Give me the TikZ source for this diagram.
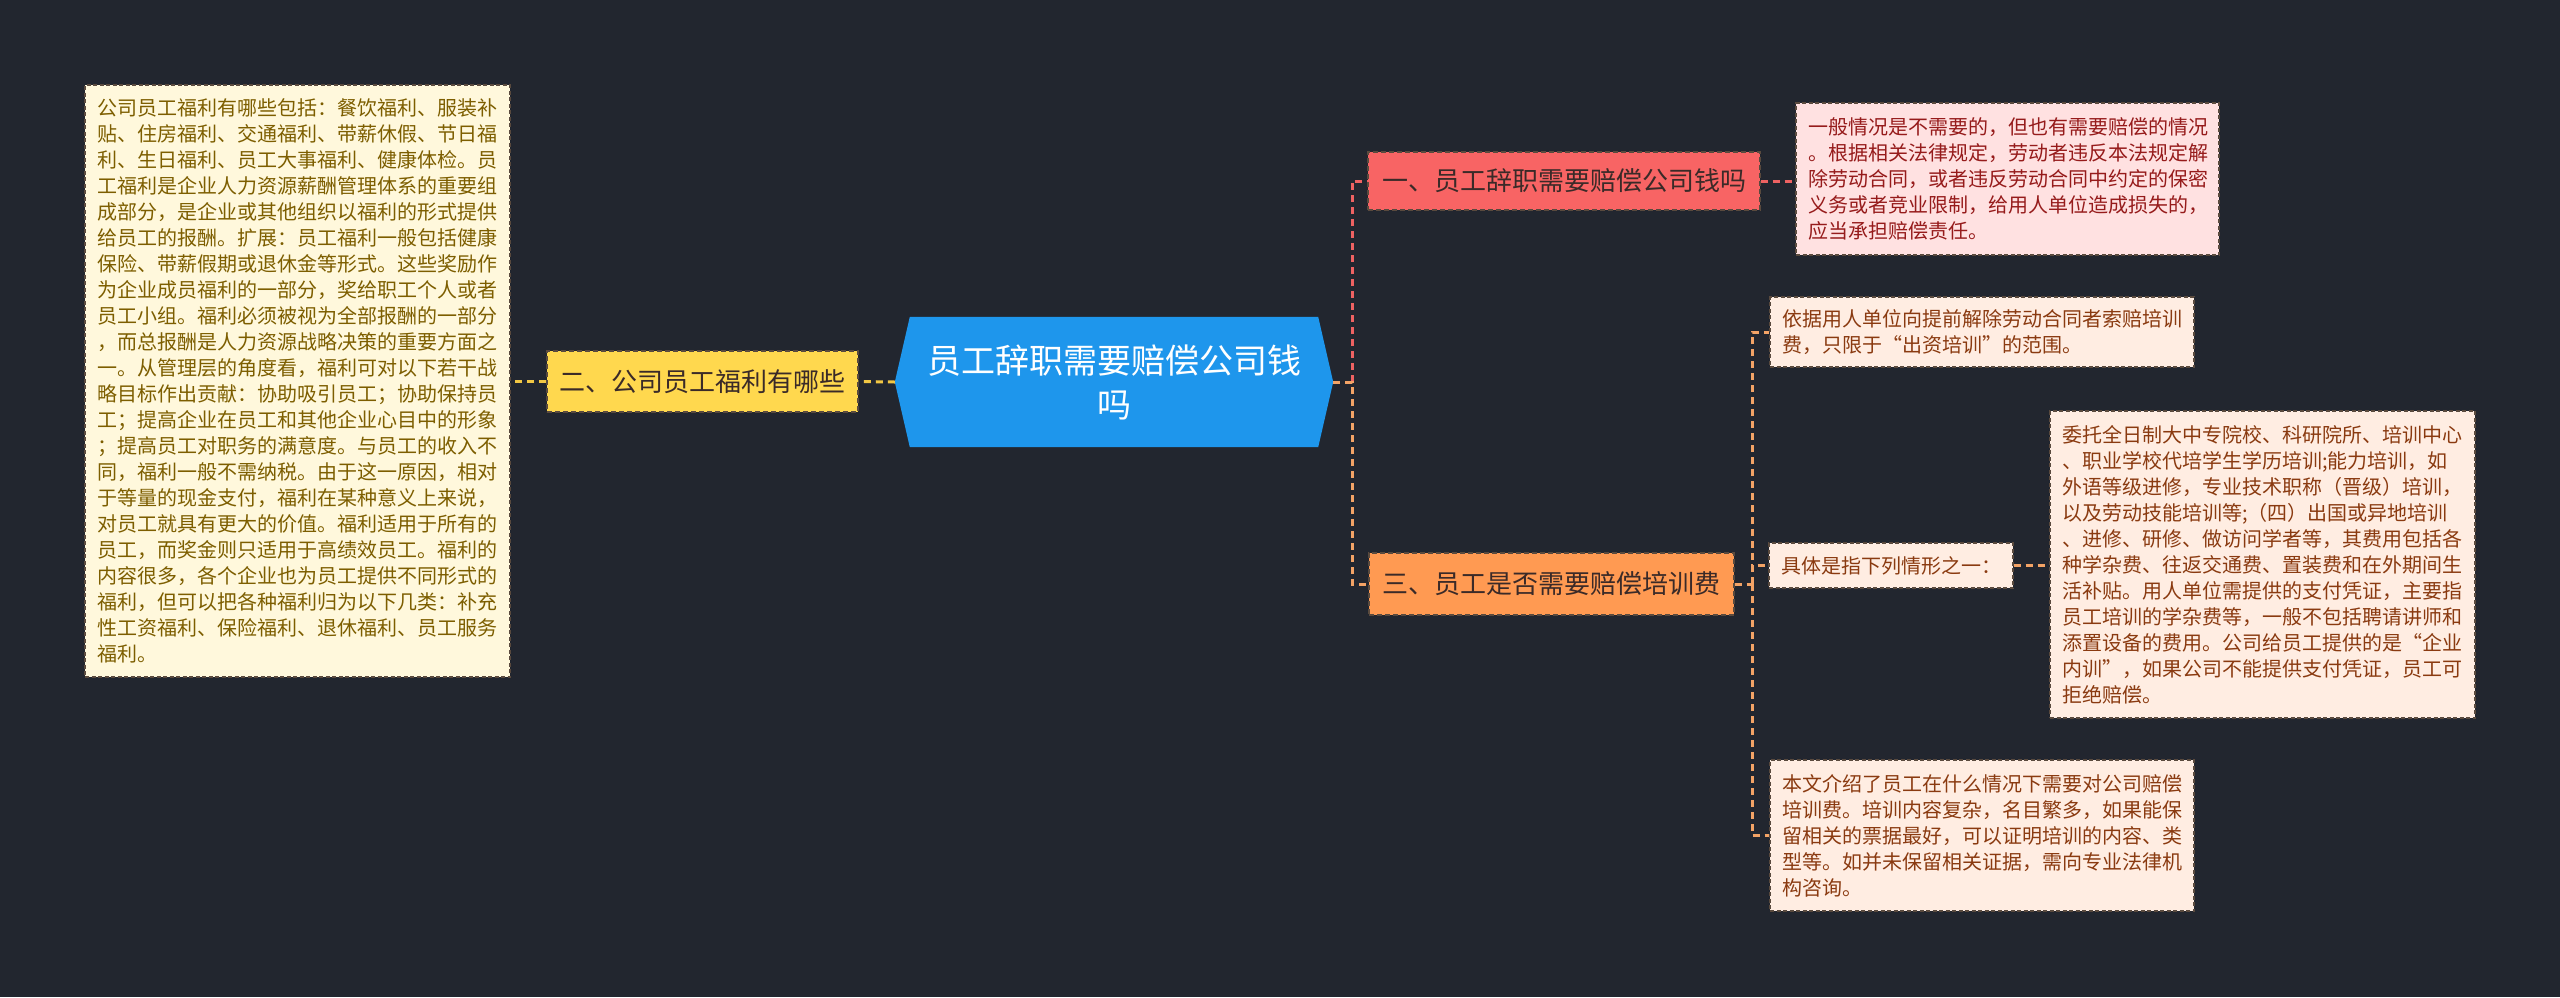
\documentclass[tikz,border=0pt]{standalone}
\usepackage{fontspec}
\setmainfont{Noto Sans CJK SC}
\usetikzlibrary{calc}
\pgfdeclarelayer{back}
\pgfdeclarelayer{bg}
\pgfsetlayers{back,bg,main}
\definecolor{bgc}{HTML}{22262F}
\definecolor{cblue}{HTML}{1E96EC}
\definecolor{cyellow}{HTML}{FFD84E}
\definecolor{cred}{HTML}{F86464}
\definecolor{corange}{HTML}{FF9A52}
\definecolor{lyellow}{HTML}{FFF8DC}
\definecolor{lred}{HTML}{FFE1E1}
\definecolor{lorange}{HTML}{FFEDE2}
\definecolor{tyellow}{HTML}{7D5E00}
\definecolor{tred}{HTML}{961B1B}
\definecolor{torange}{HTML}{8A3A10}
\definecolor{tdark}{HTML}{3A2A28}
\definecolor{bord}{HTML}{5A4A3E}
\definecolor{lyline}{HTML}{F2C744}
\definecolor{lrline}{HTML}{EE6262}
\definecolor{loline}{HTML}{F3A366}
\tikzset{
  txtbox/.style={rectangle, draw=bord, dash pattern=on 4pt off 2.5pt, line width=1.2pt,
    inner xsep=12pt, inner ysep=0pt, align=left, font=\fontsize{20}{26}\selectfont},
  topic/.style={rectangle, draw=bord, dash pattern=on 5pt off 3pt, line width=1.3pt,
    inner sep=0pt, align=center, text=tdark, font=\fontsize{26}{32}\selectfont},
  conn/.style={dash pattern=on 7pt off 5pt, line width=3pt},
}
\begin{document}
\begin{tikzpicture}[x=1pt,y=-1pt]
\begin{pgfonlayer}{back}
\fill[bgc] (0,0) rectangle (2560,997);
\end{pgfonlayer}
\useasboundingbox (0,0) rectangle (2560,997);

% central
\node[text=white, align=center, font=\fontsize{34}{44}\selectfont, minimum width=438pt, minimum height=130pt, inner sep=0pt] (c) at (1114,382) {员工辞职需要赔偿公司钱\\吗};
\begin{pgfonlayer}{bg}
\fill[cblue] (c.west) -- ([xshift=15pt]c.north west) -- ([xshift=-15pt]c.north east) -- (c.east) -- ([xshift=-15pt]c.south east) -- ([xshift=15pt]c.south west) -- cycle;
\end{pgfonlayer}

% main topics
\node[topic, fill=cyellow, minimum width=311pt, minimum height=61pt] (n2) at (702.5,381.5) {二、公司员工福利有哪些};
\node[topic, fill=cred, minimum width=392pt, minimum height=58pt] (n1) at (1564,181) {一、员工辞职需要赔偿公司钱吗};
\node[topic, fill=corange, minimum width=365pt, minimum height=62pt] (n3) at (1551.5,584) {三、员工是否需要赔偿培训费};

% left text
\node[txtbox, fill=lyellow, text=tyellow, text width=401pt, minimum height=592pt] (lt) at (297.5,381) {公司员工福利有哪些包括：餐饮福利、服装补\\
贴、住房福利、交通福利、带薪休假、节日福\\
利、生日福利、员工大事福利、健康体检。员\\
工福利是企业人力资源薪酬管理体系的重要组\\
成部分，是企业或其他组织以福利的形式提供\\
给员工的报酬。扩展：员工福利一般包括健康\\
保险、带薪假期或退休金等形式。这些奖励作\\
为企业成员福利的一部分，奖给职工个人或者\\
员工小组。福利必须被视为全部报酬的一部分\\
，而总报酬是人力资源战略决策的重要方面之\\
一。从管理层的角度看，福利可对以下若干战\\
略目标作出贡献：协助吸引员工；协助保持员\\
工；提高企业在员工和其他企业心目中的形象\\
；提高员工对职务的满意度。与员工的收入不\\
同，福利一般不需纳税。由于这一原因，相对\\
于等量的现金支付，福利在某种意义上来说，\\
对员工就具有更大的价值。福利适用于所有的\\
员工，而奖金则只适用于高绩效员工。福利的\\
内容很多，各个企业也为员工提供不同形式的\\
福利，但可以把各种福利归为以下几类：补充\\
性工资福利、保险福利、退休福利、员工服务\\
福利。};

% red text
\node[txtbox, fill=lred, text=tred, text width=399pt, minimum height=152pt] (r1) at (2007.5,179) {一般情况是不需要的，但也有需要赔偿的情况\\
。根据相关法律规定，劳动者违反本法规定解\\
除劳动合同，或者违反劳动合同中约定的保密\\
义务或者竞业限制，给用人单位造成损失的，\\
应当承担赔偿责任。};

% orange texts
\node[txtbox, fill=lorange, text=torange, text width=400pt, minimum height=70pt] (t1) at (1982,332) {依据用人单位向提前解除劳动合同者索赔培训\\
费，只限于“出资培训”的范围。};
\node[txtbox, fill=lorange, text=torange, text width=220pt, minimum height=45pt] (t2) at (1891,565.5) {具体是指下列情形之一：};
\node[txtbox, fill=lorange, text=torange, text width=401pt, minimum height=307pt] (t4) at (2262.5,564.5) {委托全日制大中专院校、科研院所、培训中心\\
、职业学校代培学生学历培训;能力培训，如\\
外语等级进修，专业技术职称（晋级）培训，\\
以及劳动技能培训等;（四）出国或异地培训\\
、进修、研修、做访问学者等，其费用包括各\\
种学杂费、往返交通费、置装费和在外期间生\\
活补贴。用人单位需提供的支付凭证，主要指\\
员工培训的学杂费等，一般不包括聘请讲师和\\
添置设备的费用。公司给员工提供的是“企业\\
内训”，如果公司不能提供支付凭证，员工可\\
拒绝赔偿。};
\node[txtbox, fill=lorange, text=torange, text width=400pt, minimum height=151pt] (t3) at (1982,835.5) {本文介绍了员工在什么情况下需要对公司赔偿\\
培训费。培训内容复杂，名目繁多，如果能保\\
留相关的票据最好，可以证明培训的内容、类\\
型等。如并未保留相关证据，需向专业法律机\\
构咨询。};

% junctions
\coordinate (j1) at (1352,382);
\coordinate (j2) at (1752,584);

% connectors
\begin{pgfonlayer}{bg}
\draw[conn, lyline] (c.west) -- (n2.east);
\draw[conn, lyline] (n2.west) -- (n2.west -| lt.east);
\draw[conn, lrline] (j1) |- (n1.west);
\draw[conn, lrline] (n1.east) -- (n1.east -| r1.west);
\draw[conn, loline] (c.east) -- (j1) |- (n3.west);
\draw[conn, loline] (n3.east) -- (j2);
\draw[conn, loline] (j2) |- (t1.west);
\draw[conn, loline] (j2) |- (t2.west);
\draw[conn, loline] (j2) |- (t3.west);
\draw[conn, loline] (t2.east) -- (t2.east -| t4.west);
\end{pgfonlayer}
\end{tikzpicture}
\end{document}
